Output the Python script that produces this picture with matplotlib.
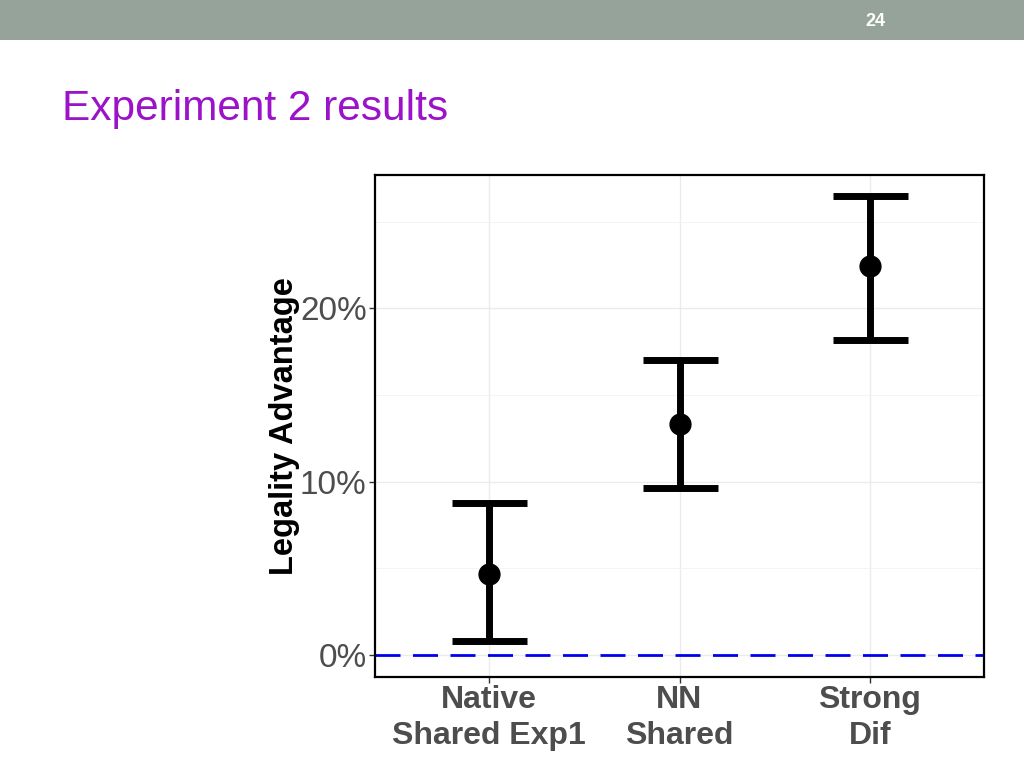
import numpy as np
import matplotlib.pyplot as plt
from matplotlib.ticker import FixedLocator, FuncFormatter

# Дані
groups = ['Native\nShared Exp1', 'NN\nShared', 'Strong\nDif']
means = [4.7, 13.35, 22.45]
lower = [0.8, 9.65, 18.15]
upper = [8.75, 17.05, 26.5]

fig = plt.figure(figsize=(10.24, 7.68), dpi=100)
fig.patch.set_facecolor('white')

# Сіра смуга зверху слайда
fig.patches.append(plt.Rectangle((0, 1 - 40 / 768), 1, 40 / 768, transform=fig.transFigure,
                                 facecolor='#95A39B', edgecolor='none'))
fig.text(875 / 1024, 1 - 21 / 768, '24', color='white', fontsize=13, fontweight='bold',
         ha='center', va='center', family='Liberation Sans')
fig.text(62 / 1024, 1 - 109 / 768, 'Experiment 2 results', color='#9B12C9', fontsize=30.5,
         ha='left', va='center', family='Liberation Sans')

ax = fig.add_axes([375 / 1024, 1 - 677 / 768, (984 - 375) / 1024, (677 - 175) / 768])
x = np.arange(1, len(groups) + 1)

ax.set_xlim(0.4, 3.6)
ax.set_ylim(-1.27, 27.7)

# Сітка
ax.yaxis.set_major_locator(FixedLocator([0, 10, 20]))
ax.yaxis.set_minor_locator(FixedLocator([5, 15, 25]))
ax.xaxis.set_major_locator(FixedLocator(x))
ax.grid(which='major', color='#EBEBEB', linewidth=1.0)
ax.grid(which='minor', axis='y', color='#F2F2F2', linewidth=0.6)
ax.set_axisbelow(True)

ax.axhline(0, color='#0000EE', linewidth=2, dashes=(9, 4.5), zorder=2)

yerr = [np.array(means) - np.array(lower), np.array(upper) - np.array(means)]
ax.errorbar(x, means, yerr=yerr, fmt='o', color='black', markersize=15,
            elinewidth=5, capsize=27, capthick=5, zorder=3)

ax.yaxis.set_major_formatter(FuncFormatter(lambda v, p: f'{v:.0f}%'))
ax.set_xticklabels(groups, fontsize=23, fontweight='bold', color='#4D4D4D',
                   linespacing=1.25, family='Liberation Sans')
for lab in ax.get_yticklabels():
    lab.set_fontsize(24)
    lab.set_color('#4D4D4D')
    lab.set_family('Liberation Sans')
ax.tick_params(axis='both', which='major', length=4, width=1, color='#333333', pad=2)
ax.tick_params(axis='y', which='minor', length=0)

ax.set_ylabel('Legality Advantage', fontsize=23.5, fontweight='bold', color='black',
              family='Liberation Sans', labelpad=0)

for s in ax.spines.values():
    s.set_linewidth(1.6)
    s.set_color('black')

fig.savefig('out.png', dpi=100)
